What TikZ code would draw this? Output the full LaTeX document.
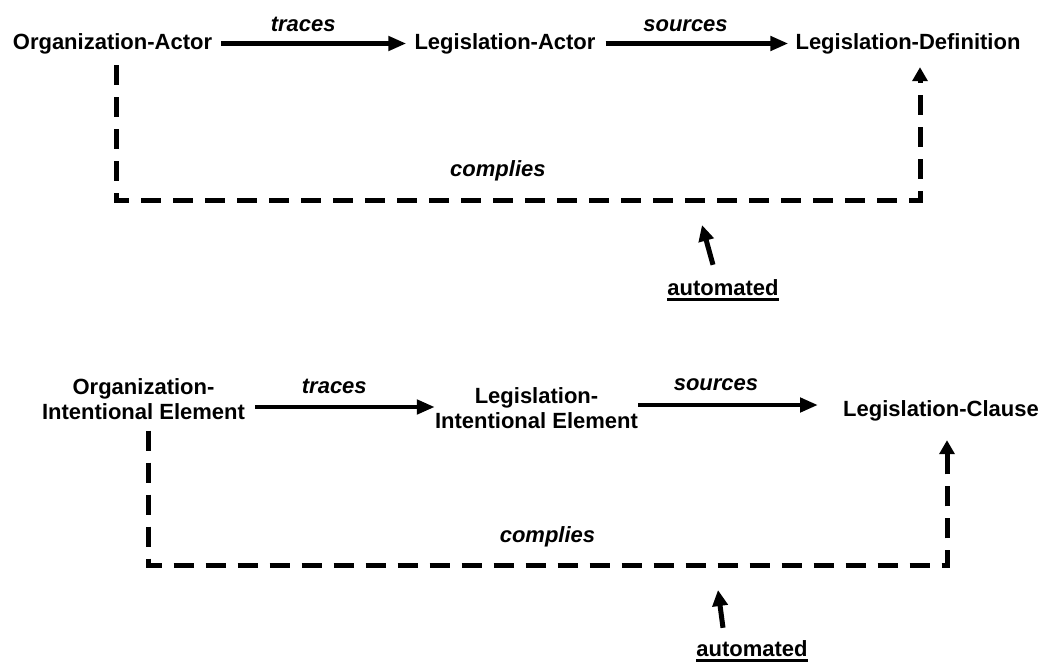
\documentclass[tikz,border=0pt]{standalone}
\usepackage{fontspec}
\setmainfont{Liberation Sans}
\usetikzlibrary{arrows.meta,calc}
\begin{document}
\begin{tikzpicture}[x=1pt,y=-1pt,
  font=\fontsize{22}{25}\selectfont\bfseries,
  every node/.style={inner sep=0pt},
  term/.style={text height=16pt,text depth=5pt},
  multi/.style={align=center},
  lbl/.style={font=\fontsize{22}{25}\selectfont\bfseries\itshape,text height=16pt,text depth=5pt},
  rel/.style={line width=4.5pt,-{Triangle[length=18pt,width=14pt]}},
  comp/.style={line width=5pt,dash pattern=on 20pt off 12pt,-{Triangle[length=14pt,width=15pt]}},
  autoarrow/.style={line width=5pt,-{Triangle[length=16pt,width=15pt]}},
  uline/.style={line width=3pt}]
\fill[white] (0,0) rectangle (1044,664);
\useasboundingbox (0,0) rectangle (1044,664);

% ---------- actors ----------
\node[term,anchor=base] (oa) at (112.5,49) {Organization-Actor};
\node[term,anchor=base] (la) at (505,49) {Legislation-Actor};
\node[term,anchor=base] (ld) at (908,49) {Legislation-Definition};

\draw[rel,shorten <=9pt,shorten >=8pt] (oa) --
  node[lbl,pos=.45,anchor=base,yshift=12pt] {traces} (la);
\draw[rel,shorten <=10pt,shorten >=7pt] (la) --
  node[lbl,pos=.45,anchor=base,yshift=12pt] {sources} (ld);

\coordinate (c1) at (116,200);
\coordinate (c2) at (920,200);
\draw[comp,shorten <=11pt,shorten >=13pt] (c1 |- oa.south) -- (c1) --
  node[lbl,pos=.475,anchor=base,yshift=24pt] {complies} (c2) -- (c2 |- ld.south);

\node[term,anchor=base] (au1) at (723,295) {automated};
\draw[uline] ([yshift=-4pt]au1.base west) -- ([yshift=-4pt]au1.base east);
\coordinate (t1) at (702,225);
\draw[autoarrow] ([xshift=-10pt,yshift=14pt]au1.north) -- (t1);

% ---------- intentional elements ----------
\node[multi,anchor=north] (oie) at (143.5,378) {Organization-\\Intentional Element};
\node[multi,anchor=north] (lie) at (536.5,387) {Legislation-\\Intentional Element};
\node[term,anchor=base] (lc) at (941,416) {Legislation-Clause};

\coordinate (tr) at ($(oie.north east)+(0,29)$);
\draw[rel,shorten <=10pt] (tr) --
  node[lbl,pos=.47,anchor=base,yshift=14pt] {traces} (tr -| lie.west);
\coordinate (sr) at ($(lie.north east)+(0,18)$);
\draw[rel,shorten >=25pt] (sr) --
  node[lbl,pos=.38,anchor=base,yshift=15pt] {sources} (sr -| lc.west);

\coordinate (d1) at (148,565);
\coordinate (d2) at (947,565);
\draw[comp,shorten <=11pt,shorten >=19pt] (d1 |- oie.south) -- (d1) --
  node[lbl,pos=.5,anchor=base,yshift=23pt] {complies} (d2) -- (d2 |- lc.south);

\node[term,anchor=base] (au2) at (752,656) {automated};
\draw[uline] ([yshift=-4pt]au2.base west) -- ([yshift=-4pt]au2.base east);
\coordinate (t2) at (718,590);
\draw[autoarrow] ([xshift=-29pt,yshift=12pt]au2.north) -- (t2);
\end{tikzpicture}
\end{document}
